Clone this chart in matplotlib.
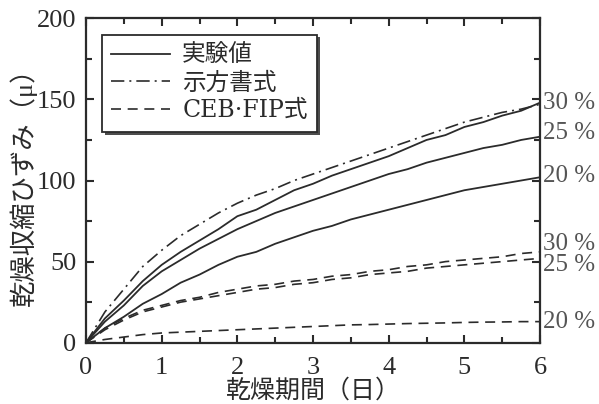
import matplotlib
matplotlib.use('Agg')
import matplotlib.pyplot as plt
from matplotlib.ticker import MultipleLocator

plt.rcParams['font.family'] = ['Liberation Serif', 'Noto Sans CJK JP']

# 乾燥期間 (日)
days = [0, 0.25, 0.5, 0.75, 1.0, 1.25, 1.5, 1.75, 2.0, 2.25, 2.5, 2.75, 3.0,
        3.25, 3.5, 3.75, 4.0, 4.25, 4.5, 4.75, 5.0, 5.25, 5.5, 5.75, 6.0]

# 実験値 (相対湿度別)
exp_30 = [0, 15, 26, 38, 48, 56, 63, 70, 78, 82, 88, 94, 98,
          103, 107, 111, 115, 120, 125, 128, 133, 136, 140, 143, 148]
exp_25 = [0, 13, 23, 35, 44, 51, 58, 64, 70, 75, 80, 84, 88,
          92, 96, 100, 104, 107, 111, 114, 117, 120, 122, 125, 127]
exp_20 = [0, 9, 16, 24, 30, 37, 42, 48, 53, 56, 61, 65, 69,
          72, 76, 79, 82, 85, 88, 91, 94, 96, 98, 100, 102]

# 示方書式
code_30 = [0, 19, 33, 47, 57, 66, 73, 80, 86, 91, 95, 100, 104,
           108, 112, 116, 120, 124, 128, 132, 136, 139, 142, 144, 147]

# CEB-FIP式
ceb_30 = [0, 9, 15, 20, 23, 26, 28, 31, 33, 35, 36, 38, 39,
          41, 42, 44, 45, 47, 48, 50, 51, 52, 53, 55, 56]
ceb_25 = [0, 8, 14, 19, 22, 25, 27, 29, 31, 33, 34, 36, 37,
          39, 40, 42, 43, 44, 46, 47, 48, 49, 50, 51, 52]
ceb_20 = [0, 2, 3.5, 5, 6, 6.5, 7, 7.5, 8, 8.5, 9, 9.5, 10,
          10.5, 11, 11.2, 11.5, 11.8, 12, 12.2, 12.5, 12.7, 12.8, 13, 13]

end_labels = ['30 %', '25 %', '20 %', '30 %', '25 %', '20 %']
end_label_y = [148, 129, 103, 61, 48, 12.5]

ink = '#2b2b2b'

fig = plt.figure(figsize=(5.99, 4.04), dpi=100)
ax = fig.add_axes([0.1436, 0.1517, 0.758, 0.8030])

ax.plot(days, exp_30, color=ink, lw=1.3, label='実験値')
ax.plot(days, exp_25, color=ink, lw=1.3)
ax.plot(days, exp_20, color=ink, lw=1.3)
ax.plot(days, code_30, color=ink, lw=1.2, dashes=(8, 3, 1.2, 3),
        label='示方書式')
ax.plot(days, ceb_30, color=ink, lw=1.2, dashes=(6, 4), label='CEB·FIP式')
ax.plot(days, ceb_25, color=ink, lw=1.2, dashes=(6, 4))
ax.plot(days, ceb_20, color=ink, lw=1.2, dashes=(6, 4))

ax.set_xlim(0, 6)
ax.set_ylim(0, 200)
ax.xaxis.set_major_locator(MultipleLocator(1))
ax.xaxis.set_minor_locator(MultipleLocator(0.5))
ax.yaxis.set_major_locator(MultipleLocator(50))
ax.yaxis.set_minor_locator(MultipleLocator(25))
ax.tick_params(which='both', direction='in', top=True, right=True,
               colors=ink, width=1.5, labelsize=19)
ax.tick_params(which='major', length=6)
ax.tick_params(axis='y', which='major', pad=7)
ax.tick_params(axis='x', which='major', pad=10)
ax.tick_params(which='minor', length=4)
for s in ax.spines.values():
    s.set_linewidth(1.6)
    s.set_color(ink)

# x軸ラベルは目盛り数字の下に直接置く
fig.text(0.5 * (0.1436 + 0.9015), 0.033, '乾燥期間（日）', fontsize=18,
         color=ink, ha='center', va='center')
ax.set_ylabel('乾燥収縮ひずみ（μ）', fontsize=19, color=ink, labelpad=0)

for txt, yv in zip(end_labels, end_label_y):
    ax.text(6.04, yv, txt, fontsize=18, color='#555555', va='center',
            ha='left', clip_on=False)

leg = ax.legend(loc='upper left', bbox_to_anchor=(0.035, 0.95),
                prop={'family': ['DejaVu Serif', 'Noto Sans CJK JP'],
                      'size': 17},
                frameon=True, fancybox=False,
                shadow={'facecolor': '0.3', 'edgecolor': 'none', 'alpha': 1},
                handlelength=2.5, labelspacing=0.2, borderpad=0.4,
                handletextpad=0.5, borderaxespad=0)
leg.get_frame().set_edgecolor(ink)
leg.get_frame().set_linewidth(1.3)
for t in leg.get_texts():
    t.set_color(ink)

fig.savefig('out.png', dpi=100)
